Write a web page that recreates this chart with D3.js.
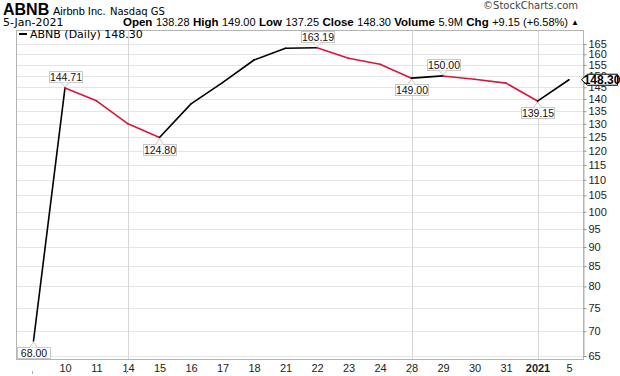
<!DOCTYPE html>
<html>
<head>
<meta charset="utf-8">
<script src="https://cdn.jsdelivr.net/npm/d3@7"></script>
<style>
  body { margin: 0; background: #fff; }
  svg text { font-family: "Liberation Sans", Arial, sans-serif; }
</style>
</head>
<body>
<div class="chart-container"></div>
<script>
// data (ABNB daily closes)
const dates = ["Dec 9", "Dec 10", "Dec 11", "Dec 14", "Dec 15", "Dec 16", "Dec 17", "Dec 18", "Dec 21", "Dec 22",
    "Dec 23", "Dec 24", "Dec 28", "Dec 29", "Dec 30", "Dec 31", "Jan 4", "Jan 5"];
const tickLabels = ["", "10", "11", "14", "15", "16", "17", "18", "21", "22", "23", "24", "28", "29", "30", "31", "2021", "5"];
const closes = [68.00, 144.71, 139.25, 130.00, 124.80, 137.99, 147.05, 157.30, 162.90, 163.19,
    158.10, 155.30, 149.00, 150.00, 148.50, 146.80, 139.15, 148.30];
const labelDates = ["Dec 9", "Dec 10", "Dec 15", "Dec 22", "Dec 28", "Dec 29", "Jan 4"];
const labelSides = ["below", "above", "below", "above", "below", "above", "below"];
const gridDates = ["Dec 14", "Dec 28", "Jan 4"];
const yTicks = [65, 70, 75, 80, 85, 90, 95, 100, 105, 110, 115, 120, 125, 130, 135, 140, 145, 150, 155, 160, 165];
const statNames = ["Open", "High", "Low", "Close", "Volume", "Chg"];
const statValues = ["138.28", "149.00", "137.25", "148.30", "5.9M", "+9.15 (+6.58%)"];
const lastClose = 148.30;

const width = 620;
const height = 376;
const frame = { left: 16, right: 583, top: 30, bottom: 359 };

const x = d3.scalePoint()
    .domain(dates)
    .range([33.5, 569]);

const y = d3.scaleLog()   // stockcharts uses a log price axis
    .domain([65, 165])
    .range([356, 44]);

const svg = d3.select(".chart-container").append("svg")
    .attr("width", width)
    .attr("height", height);

// header
const head = svg.append("g");
head.append("text").attr("x", 3).attr("y", 15)
    .style("font-size", "16px").style("font-weight", "900").text("ABNB");
head.append("text").attr("x", 53).attr("y", 15)
    .style("font-size", "11px").text("Airbnb Inc.");
head.append("text").attr("x", 110).attr("y", 15)
    .style("font-size", "10px").style("font-family", "DejaVu Sans").text("Nasdaq GS");
head.append("text").attr("x", 578).attr("y", 9).attr("text-anchor", "end")
    .style("font-size", "10px").style("font-family", "DejaVu Sans").style("fill", "#444")
    .text("\u00A9StockCharts.com");
head.append("text").attr("x", 3).attr("y", 26)
    .style("font-size", "11px").style("font-family", "DejaVu Sans").text("5-Jan-2021");

// stats line: lay out word by word, then spread to fit between 123 and 568
const statStart = 123, statEnd = 568;
const pieces = [];
statNames.forEach((name, i) => {
    pieces.push(head.append("text").attr("y", 26)
        .style("font-size", "11.5px").style("font-weight", "bold").text(name));
    pieces.push(head.append("text").attr("y", 26)
        .style("font-size", "11px").text(statValues[i]));
});
const widths = pieces.map(p => p.node().getComputedTextLength());
const used = d3.sum(widths);
const innerGap = 3.5;
const outerGap = (statEnd - statStart - used - innerGap * statNames.length) / (statNames.length - 1);
let cx = statStart;
pieces.forEach((p, i) => {
    p.attr("x", cx);
    cx += widths[i] + (i % 2 === 0 ? innerGap : outerGap);
});
head.append("text").attr("x", 571).attr("y", 25)
    .style("font-size", "8px").text("\u25B2");

// grid
const grid = svg.append("g");
grid.selectAll(".hgrid")
    .data(yTicks)
    .enter()
    .append("line")
    .attr("class", "hgrid")
    .attr("x1", frame.left).attr("x2", frame.right)
    .attr("y1", d => Math.round(y(d)) + 0.5).attr("y2", d => Math.round(y(d)) + 0.5)
    .attr("stroke", "#e4e4e4");
grid.selectAll(".vgrid")
    .data(gridDates)
    .enter()
    .append("line")
    .attr("class", "vgrid")
    .attr("x1", d => Math.round(x(d)) + 0.5).attr("x2", d => Math.round(x(d)) + 0.5)
    .attr("y1", frame.top).attr("y2", frame.bottom)
    .attr("stroke", "#d6d6d6");

svg.append("rect")
    .attr("x", frame.left + 0.5).attr("y", frame.top + 0.5)
    .attr("width", frame.right - frame.left).attr("height", frame.bottom - frame.top)
    .attr("fill", "none").attr("stroke", "#b4b4b4");

// right axis
const yAxis = d3.axisRight(y)
    .tickValues(yTicks)
    .tickFormat(d3.format("d"))
    .tickSize(3)
    .tickPadding(2);
const yG = svg.append("g")
    .attr("transform", `translate(${frame.right + 0.5},0)`)
    .call(yAxis);
yG.select(".domain").attr("stroke", "#b4b4b4");
yG.selectAll(".tick line").attr("stroke", "#999");
yG.selectAll(".tick text")
    .style("font-family", "Liberation Sans").style("font-size", "11px").attr("fill", "#222");

// bottom axis
const xAxis = d3.axisBottom(x)
    .tickFormat((d, i) => tickLabels[i])
    .tickSize(0)
    .tickPadding(5);
const xG = svg.append("g")
    .attr("transform", `translate(0,${frame.bottom})`)
    .call(xAxis);
xG.select(".domain").remove();
xG.selectAll(".tick text")
    .style("font-family", "Liberation Sans").style("font-size", "11px").attr("fill", "#222")
    .style("font-weight", d => d === "Jan 4" ? "bold" : "normal");
svg.selectAll(".xmark")
    .data(["Dec 9"].concat(gridDates))
    .enter()
    .append("line")
    .attr("class", "xmark")
    .attr("x1", d => Math.round(x(d)) - 1.5).attr("x2", d => Math.round(x(d)) - 1.5)
    .attr("y1", 371).attr("y2", 374)
    .attr("stroke", "#aaa");

// price line, red where the close fell
const segs = d3.pairs(dates.map((d, i) => ({ date: d, close: closes[i] })));
svg.append("g")
    .selectAll("line")
    .data(segs)
    .enter()
    .append("line")
    .attr("x1", d => x(d[0].date)).attr("y1", d => y(d[0].close))
    .attr("x2", d => x(d[1].date)).attr("y2", d => y(d[1].close))
    .attr("stroke", d => d[1].close < d[0].close ? "#dc143c" : "#000")
    .attr("stroke-width", 1.6)
    .attr("stroke-linecap", "round");

// value call-outs
const callouts = svg.append("g");
labelDates.forEach((date, k) => {
    const i = dates.indexOf(date);
    const px = x(date);
    const py = y(closes[i]);
    const above = labelSides[k] === "above";
    const txt = closes[i].toFixed(2);
    const w = 33, h = 11;
    let bx = Math.round(px - w / 2);
    if (bx < frame.left + 1) bx = frame.left + 1;
    const by = above ? Math.round(py - 6 - h) : Math.round(py + 6);
    const g = callouts.append("g");
    g.append("rect")
        .attr("x", bx + 0.5).attr("y", by + 0.5)
        .attr("width", w).attr("height", h)
        .attr("fill", "#fff").attr("stroke", "#c8c8c8");
    const edge = above ? by + h + 0.5 : by + 0.5;
    g.append("path")
        .attr("d", `M${px - 4},${edge}L${px},${above ? py - 1 : py + 1}L${px + 4},${edge}`)
        .attr("fill", "#fff").attr("stroke", "#c8c8c8");
    g.append("text")
        .attr("x", bx + 0.5 + w / 2).attr("y", by + 9.5)
        .attr("text-anchor", "middle")
        .style("font-size", "10.5px").attr("fill", "#111")
        .text(txt);
});

// legend
svg.append("line")
    .attr("x1", 19).attr("x2", 27).attr("y1", 34).attr("y2", 34)
    .attr("stroke", "#000").attr("stroke-width", 2);
svg.append("text")
    .attr("x", 30).attr("y", 38)
    .style("font-family", "DejaVu Sans").style("font-size", "11px")
    .text(`ABNB (Daily) ${lastClose.toFixed(2)}`);

// last price tag on the axis (covers the 145/150 labels like the original)
const ly = y(lastClose);
svg.append("path")
    .attr("d", `M${frame.right - 1.5},${ly}L${frame.right + 4.5},${ly - 5.5}L${617.5},${ly - 5.5}L${617.5},${ly + 5.5}L${frame.right + 4.5},${ly + 5.5}Z`)
    .attr("fill", "#fff").attr("stroke", "#000");
svg.append("text")
    .attr("x", 602).attr("y", ly + 4.5)
    .attr("text-anchor", "middle")
    .style("font-size", "12px").style("font-weight", "bold")
    .text(lastClose.toFixed(2));
</script>
</body>
</html>
